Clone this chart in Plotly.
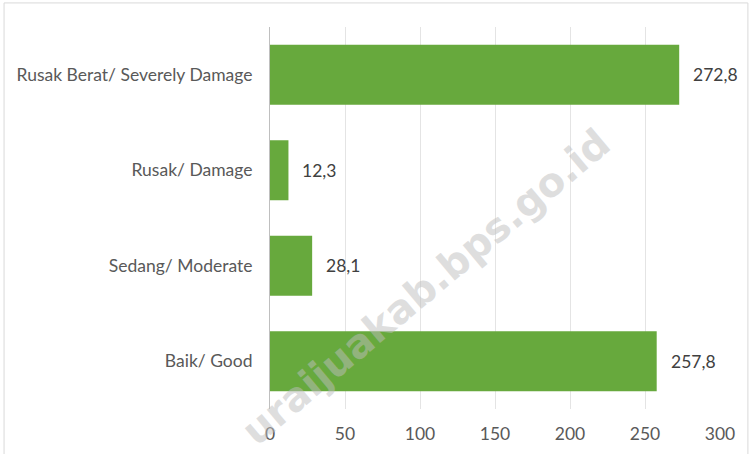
import plotly.graph_objects as go

categories = ["Baik/ Good", "Sedang/ Moderate", "Rusak/ Damage", "Rusak Berat/ Severely Damage"]
values = [257.8, 28.1, 12.3, 272.8]
tick_vals = [0, 50, 100, 150, 200, 250, 300]

bar_color = "#67a93d"
text_color = "#595959"
font_family = "Lato, Open Sans, sans-serif"
fs = 17.5

fig = go.Figure()
fig.add_trace(go.Bar(
    x=values, y=categories, orientation="h",
    marker=dict(color=bar_color, line=dict(width=0)),
    width=0.63, hoverinfo="skip",
))

for v, c in zip(values, categories):
    fig.add_annotation(
        x=v, y=c, xref="x", yref="y", text=f"{v:.1f}".replace(".", ","),
        showarrow=False, xanchor="left", xshift=12,
        font=dict(family=font_family, size=fs, color="#404040"),
    )

# watermark
fig.add_annotation(
    x=0.345, y=0.32, xref="paper", yref="paper", xanchor="center", yanchor="middle",
    text="<b>uraijuakab.bps.go.id</b>", showarrow=False, textangle=-40,
    font=dict(family="DejaVu Sans, sans-serif", size=40, color="rgba(190,190,190,0.5)"),
)

# outer border
fig.add_shape(type="rect", xref="paper", yref="paper",
              x0=-0.591, x1=1.062, y0=-0.2, y1=1.063,
              line=dict(color="#d9d9d9", width=1), fillcolor="rgba(0,0,0,0)", layer="below")

fig.update_layout(
    width=752, height=454,
    margin=dict(l=270, r=32, t=27, b=45, autoexpand=False),
    plot_bgcolor="white", paper_bgcolor="white",
    showlegend=False,
    separators=",.",
    font=dict(family=font_family, size=fs, color=text_color),
    bargap=0.37,
)
fig.update_xaxes(
    range=[0, 300], tickvals=tick_vals, ticktext=[str(t) for t in tick_vals],
    showgrid=True, gridcolor="#e4e4e4", gridwidth=1,
    zeroline=False, showline=False, ticks="", ticklabelstandoff=12,
    tickfont=dict(size=fs, color=text_color), fixedrange=True, automargin=False,
)
fig.update_yaxes(
    categoryorder="array", categoryarray=categories,
    showline=True, linecolor="#bfbfbf", linewidth=1,
    showgrid=False, ticks="", ticklabelstandoff=13,
    tickfont=dict(size=fs, color=text_color), fixedrange=True, automargin=False,
)

fig.write_html("out.html", config={"displayModeBar": False},
               post_script="document.body.style.margin='0';document.body.style.overflow='hidden';")
